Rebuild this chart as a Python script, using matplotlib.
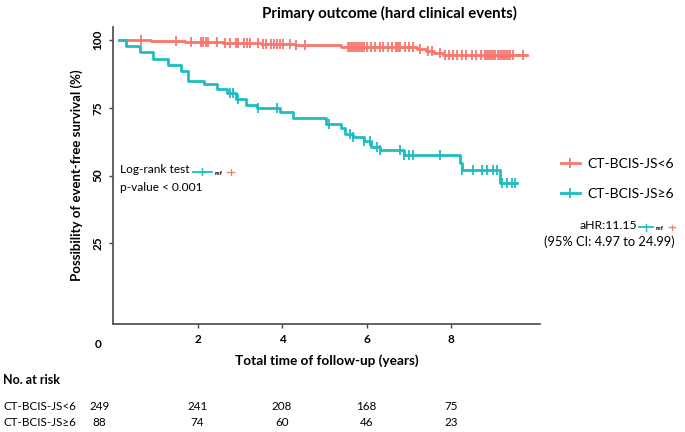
"""KM curve: primary outcome by CT-BCIS-JS group, with risk table."""

import matplotlib.pyplot as plt
import numpy as np
from matplotlib.lines import Line2D
from matplotlib.transforms import blended_transform_factory

plt.rcParams['font.family'] = ['Lato', 'DejaVu Sans']

RED = "#F8766D"
CYAN = "#1DBDC1"

# step curves (time in years, survival %)
low_t = [0.15, 0.9, 1.7, 2.6, 3.5, 4.3, 5.4, 7.2, 7.4, 7.6, 7.8, 9.8]
low_s = [100, 99.6, 99.2, 98.8, 98.4, 98.0, 97.5, 96.8, 96.0, 95.2, 94.4, 94.4]
high_t = [0.15, 0.3, 0.65, 0.95, 1.3, 1.6, 1.78, 2.15, 2.45, 2.7, 2.92, 3.15,
          3.4, 3.95, 4.25, 5.03, 5.4, 5.48, 5.68, 5.93, 6.1, 6.33, 6.88,
          8.22, 8.27, 9.17, 9.57]
high_s = [100, 97.7, 95.4, 93.1, 90.8, 88.5, 84.9, 83.7, 82.1, 80.5, 78.4, 76.2,
          75.0, 73.6, 71.4, 68.9, 67.7, 65.3, 64.1, 62.9, 60.6, 59.4, 57.6,
          54.6, 52.0, 47.2, 47.2]

# censoring times
low_cens = [0.66, 1.49, 1.84, 2.08, 2.14, 2.2, 2.24, 2.47, 2.66, 2.78, 2.9, 2.95,
            3.09, 3.18, 3.25, 3.42, 3.54, 3.61, 3.73, 3.8, 3.89, 3.96, 4.03,
            4.2, 4.32, 4.55, 5.55, 5.6, 5.65, 5.7, 5.75, 5.8, 5.85, 5.9, 5.95,
            6.0, 6.1, 6.2, 6.33, 6.4, 6.5, 6.6, 6.7, 6.75, 6.8, 6.9, 7.0, 7.1,
            7.27, 7.45, 7.55, 7.75, 7.85, 7.95, 8.05, 8.15, 8.25, 8.35, 8.5,
            8.6, 8.7, 8.8, 8.85, 8.9, 8.95, 9.0, 9.05, 9.1, 9.15, 9.2, 9.25,
            9.3, 9.35, 9.4, 9.47, 9.7]
high_cens = [2.78, 2.85, 2.95, 3.42, 3.89, 5.1, 5.62, 5.69, 5.93, 6.09, 6.25,
             6.33, 6.8, 6.88, 7.0, 7.1, 7.75, 8.27, 8.53, 8.74, 8.86, 9.0, 9.09,
             9.2, 9.33, 9.45, 9.52]

x_ticks = [2, 4, 6, 8]
y_ticks = [25, 50, 75, 100]
groups = ["CT-BCIS-JS<6", "CT-BCIS-JS\u22656"]
risk_times = [-0.33, 2, 4, 6, 8]
risk_low = [249, 241, 208, 168, 75]
risk_high = [88, 74, 60, 46, 23]


def surv_at(ts, ss, t):
    i = np.searchsorted(ts, t, side="right") - 1
    return np.asarray(ss)[i]


fig = plt.figure(figsize=(6.85, 4.32), dpi=100)
ax = fig.add_axes([0.165, 0.25, 0.623, 0.6875])

for ts, ss, cens, col in [(low_t, low_s, low_cens, RED),
                          (high_t, high_s, high_cens, CYAN)]:
    ax.step(ts, ss, where="post", color=col, lw=2.0)
    ax.plot(cens, surv_at(ts, ss, cens), ls="none", marker="|",
            ms=7, mew=1.3, color=col)

ax.set_xlim(0, 10.1)
ax.set_ylim(-4.8, 104.8)
ax.set_xticks(x_ticks)
ax.set_yticks(y_ticks)
ax.set_xticklabels([str(v) for v in x_ticks], fontweight="bold", fontsize=8.5)
ax.set_yticklabels([str(v) for v in y_ticks], fontweight="bold", fontsize=8.5,
                   rotation=90, va="center")
ax.tick_params(length=3, width=1, color="#444444", pad=4)
for s in ["top", "right"]:
    ax.spines[s].set_visible(False)
for s in ["left", "bottom"]:
    ax.spines[s].set_color("#555555")
    ax.spines[s].set_linewidth(1.3)
ax.text(-0.35, -0.05, "0", transform=blended_transform_factory(ax.transData, ax.transAxes),
        ha="center", va="top", fontweight="bold", fontsize=8.5)
ax.set_xlabel("Total time of follow-up (years)", fontweight="bold", fontsize=9.8, labelpad=7)
ax.set_ylabel("Possibility of event-free survival (%)", fontweight="bold", fontsize=9.5,
              labelpad=7)
fig.text(0.568, 0.968, "Primary outcome (hard clinical events)", ha="center",
         va="center", fontweight="bold", fontsize=10.8)


def mini_key(x0, y, w=0.027):
    # little "cyan ref red" key drawn after a label
    fig.add_artist(Line2D([x0, x0 + w], [y, y], color=CYAN, lw=1.3))
    fig.add_artist(Line2D([x0 + w / 2] * 2, [y - 0.008, y + 0.008], color=CYAN, lw=1))
    fig.text(x0 + w + 0.004, y - 0.004, "ref", fontsize=4.5, fontweight="bold", va="center")
    fig.add_artist(Line2D([x0 + w + 0.023, x0 + w + 0.033], [y, y], color=RED, lw=1))
    fig.add_artist(Line2D([x0 + w + 0.028] * 2, [y - 0.006, y + 0.006], color=RED, lw=0.8))


fig.text(0.175, 0.607, "Log-rank test", fontsize=8.6, va="center")
mini_key(0.282, 0.602)
fig.text(0.175, 0.567, "p-value < 0.001", fontsize=8.6, va="center")

fig.text(0.93, 0.479, "aHR:11.15", fontsize=8.8, va="center", ha="right")
mini_key(0.933, 0.474, w=0.02)
fig.text(0.985, 0.44, "(95% CI: 4.97 to 24.99)", fontsize=9.3, va="center", ha="right")

handles = [Line2D([], [], color=c, lw=2, marker="|", ms=7, mew=1.3) for c in (RED, CYAN)]
fig.legend(handles, groups, loc="center left", bbox_to_anchor=(0.8, 0.586),
           frameon=False, fontsize=10, handlelength=1.4, handletextpad=0.5,
           labelspacing=1.25)

# risk table
fig.text(0.005, 0.12, "No. at risk", fontweight="bold", fontsize=9, va="center")
tr = blended_transform_factory(ax.transData, fig.transFigure)
for row, (name, vals) in enumerate(zip(groups, [risk_low, risk_high])):
    y = 0.058 - row * 0.035
    fig.text(0.005, y, name, fontsize=8.4, va="center")
    for t, v in zip(risk_times, vals):
        ax.text(t, y, str(v), transform=tr, ha="center", va="center",
                fontsize=8.4, clip_on=False)

fig.savefig("out.png", dpi=100)
